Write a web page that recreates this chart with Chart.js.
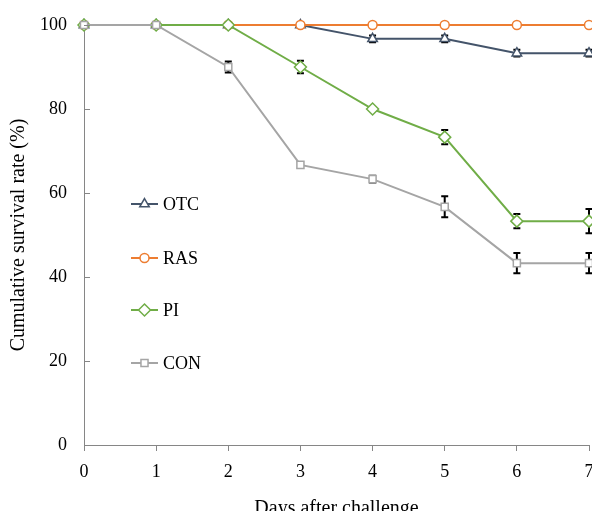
<!DOCTYPE html>
<html>
<head>
<meta charset="utf-8">
<script src="https://cdn.jsdelivr.net/npm/chart.js@4"></script>
<style>
  html, body { margin: 0; padding: 0; overflow: hidden; background: #fff; }
  #wrap { width: 610px; height: 540px; }
</style>
</head>
<body>
<div id="wrap"><canvas id="chart" width="610" height="540"></canvas></div>
<script>
// data
const days = [0, 1, 2, 3, 4, 5, 6, 7];
const otc = [100, 100, 100, 100, 96.7, 96.7, 93.3, 93.3];
const otcErr = [0, 0, 0, 0, 0.8, 0.8, 0.8, 0.8];
const ras = [100, 100, 100, 100, 100, 100, 100, 100];
const rasErr = [0, 0, 0, 0, 0, 0, 0, 0];
const pi = [100, 100, 100, 90, 80, 73.3, 53.3, 53.3];
const piErr = [0, 0, 0, 1.5, 0, 1.7, 1.7, 2.9];
const con = [100, 100, 90, 66.7, 63.3, 56.7, 43.3, 43.3];
const conErr = [0, 0, 1.3, 0.7, 0.8, 2.5, 2.4, 2.4];
const yTicks = [0, 20, 40, 60, 80, 100];

const FONT = '"Liberation Serif", "Times New Roman", serif';
const AXIS = '#868686';

const series = [
  { label: 'OTC', vals: otc, err: otcErr, color: '#44546A', style: 'triangle', r: 5.5, order: 4 },
  { label: 'RAS', vals: ras, err: rasErr, color: '#ED7D31', style: 'circle', r: 4.5, order: 3 },
  { label: 'PI', vals: pi, err: piErr, color: '#70AD47', style: 'rectRot', r: 6, order: 2 },
  { label: 'CON', vals: con, err: conErr, color: '#A5A5A5', style: 'rect', r: 5, order: 1 }
];

// error bars sit under the markers
const errorBars = {
  id: 'errorBars',
  beforeDatasetsDraw(chart) {
    const { ctx, scales: { x, y } } = chart;
    ctx.save();
    ctx.strokeStyle = '#000';
    ctx.lineWidth = 2;
    series.forEach(s => {
      s.vals.forEach((v, i) => {
        const e = s.err[i];
        if (!e) return;
        const px = x.getPixelForValue(days[i]);
        const top = y.getPixelForValue(v + e);
        const bot = y.getPixelForValue(v - e);
        ctx.beginPath();
        ctx.moveTo(px, top); ctx.lineTo(px, bot);
        ctx.moveTo(px - 3.5, top); ctx.lineTo(px + 3.5, top);
        ctx.moveTo(px - 3.5, bot); ctx.lineTo(px + 3.5, bot);
        ctx.stroke();
      });
    });
    ctx.restore();
  }
};

// y ticks point inward, like the original
const innerTicks = {
  id: 'innerTicks',
  afterDraw(chart) {
    const { ctx, scales: { y } } = chart;
    ctx.save();
    ctx.strokeStyle = AXIS;
    ctx.lineWidth = 1;
    yTicks.slice(1).forEach(t => {
      const py = Math.round(y.getPixelForValue(t)) + 0.5;
      ctx.beginPath();
      ctx.moveTo(y.right, py);
      ctx.lineTo(y.right + 6, py);
      ctx.stroke();
    });
    ctx.restore();
  }
};

// legend stacked inside the plot on the left
const sideLegend = {
  id: 'sideLegend',
  afterDraw(chart) {
    const { ctx } = chart;
    const rows = [204, 258, 310, 363];
    ctx.save();
    series.forEach((s, i) => {
      const yy = rows[i];
      ctx.strokeStyle = s.color;
      ctx.lineWidth = 2;
      ctx.beginPath();
      ctx.moveTo(131, yy); ctx.lineTo(158, yy);
      ctx.stroke();
      ctx.fillStyle = '#fff';
      ctx.lineWidth = 1.5;
      Chart.helpers.drawPoint(ctx, { pointStyle: s.style, radius: s.r, rotation: 0, borderWidth: 1.5 }, 144.5, yy);
      ctx.fillStyle = '#000';
      ctx.font = '18px ' + FONT;
      ctx.textBaseline = 'middle';
      ctx.fillText(s.label, 163, yy + 1);
    });
    ctx.restore();
  }
};

new Chart(document.getElementById('chart'), {
  type: 'line',
  data: {
    datasets: series.map(s => ({
      label: s.label,
      data: days.map((d, i) => ({ x: d, y: s.vals[i] })),
      borderColor: s.color,
      borderWidth: 2,
      backgroundColor: '#fff',
      pointStyle: s.style,
      pointRadius: s.r,
      pointHoverRadius: s.r,
      pointBorderColor: s.color,
      pointBackgroundColor: '#fff',
      pointBorderWidth: 1.5,
      tension: 0,
      order: s.order,
      clip: false
    }))
  },
  options: {
    responsive: false,
    animation: false,
    events: [],
    layout: { padding: { top: 25, right: 21, bottom: 0, left: 0 } },
    plugins: { legend: { display: false }, tooltip: { enabled: false } },
    scales: {
      x: {
        type: 'linear',
        min: 0, max: 7,
        afterFit(s) { s.height = 95; },
        afterBuildTicks(s) { s.ticks = days.map(d => ({ value: d })); },
        grid: { display: true, drawOnChartArea: false, drawTicks: true, tickLength: 6, color: AXIS },
        border: { display: true, color: AXIS, width: 1 },
        ticks: { color: '#000', font: { family: FONT, size: 18 }, padding: 10, maxRotation: 0 },
        title: { display: true, text: 'Days after challenge', color: '#000', font: { family: FONT, size: 20 }, padding: { top: 0, bottom: 19 } }
      },
      y: {
        min: 0, max: 100,
        afterFit(s) { s.width = 84; },
        afterBuildTicks(s) { s.ticks = yTicks.map(v => ({ value: v })); },
        grid: { display: false },
        border: { display: true, color: AXIS, width: 1 },
        ticks: { color: '#000', font: { family: FONT, size: 18 }, padding: 9 },
        title: { display: true, text: 'Cumulative survival rate (%)', color: '#000', font: { family: FONT, size: 20 }, padding: { top: 7, bottom: 0 } }
      }
    }
  },
  plugins: [errorBars, innerTicks, sideLegend]
});
</script>
</body>
</html>
